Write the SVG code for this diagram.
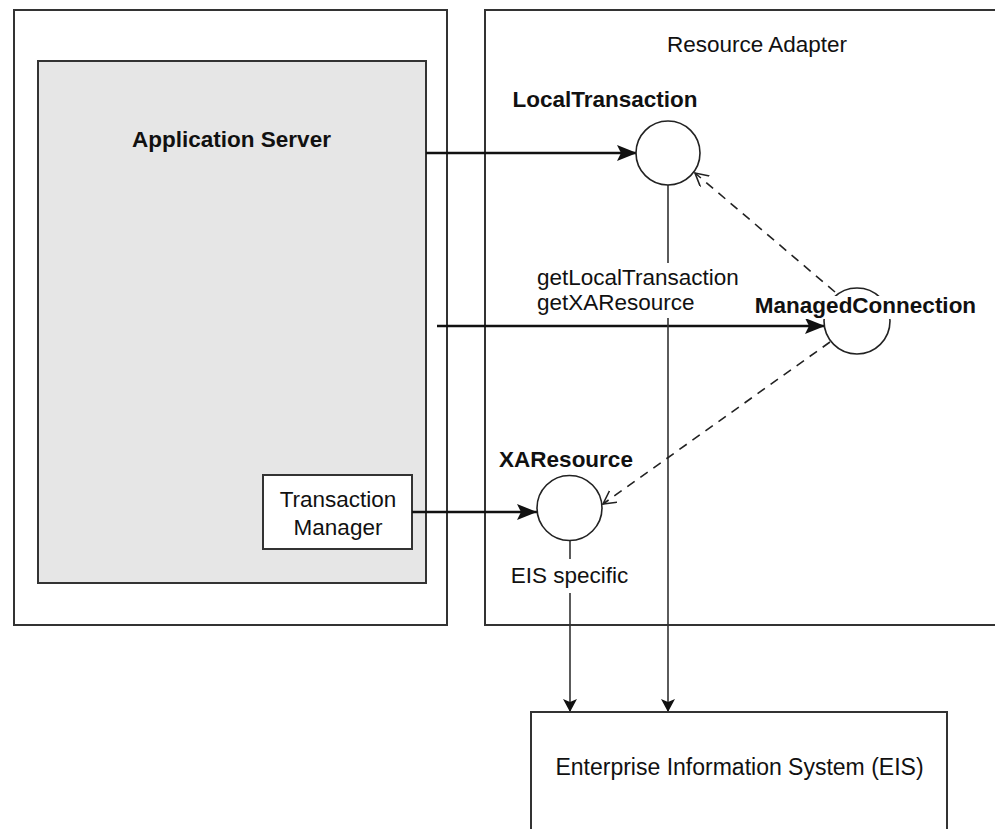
<svg xmlns="http://www.w3.org/2000/svg" width="995" height="829" viewBox="0 0 995 829">
<style>
.box{fill:#fff;stroke:#333;stroke-width:2}
.gray{fill:#e6e6e6;stroke:#333;stroke-width:2}
.circ{fill:#fff;stroke:#222;stroke-width:1.6}
.t{font-family:"Liberation Sans",Arial,sans-serif;font-size:22.5px;fill:#111}
.b{font-weight:bold}
.thick{stroke:#111;stroke-width:2.6;fill:none}
.thin{stroke:#333;stroke-width:1.6;fill:none}
.dash{stroke:#222;stroke-width:1.6;fill:none;stroke-dasharray:9 7}
</style>
<defs>
<marker id="big" markerWidth="22" markerHeight="18" refX="20" refY="8" orient="auto" markerUnits="userSpaceOnUse">
<path d="M0,0 L20,8 L0,16 L4,8 Z" fill="#111"/>
</marker>
<marker id="small" markerWidth="16" markerHeight="16" refX="13" refY="7" orient="auto" markerUnits="userSpaceOnUse">
<path d="M0,0 L13,7 L0,14 L3,7 Z" fill="#111"/>
</marker>
<marker id="open" markerWidth="16" markerHeight="16" refX="13" refY="7" orient="auto" markerUnits="userSpaceOnUse">
<path d="M0,0 L13,7 L0,14" fill="none" stroke="#222" stroke-width="1.6"/>
</marker>
</defs>
<rect width="995" height="829" fill="#fff"/>

<g id="outer-left">
<rect class="box" x="14" y="10" width="433" height="615"/>
</g>
<g id="resource-adapter">
<rect class="box" x="485" y="10" width="530" height="615"/>
<text class="t" x="757" y="52" text-anchor="middle">Resource Adapter</text>
</g>
<g id="application-server">
<rect class="gray" x="38" y="61" width="388" height="522"/>
<text class="t b" x="231.5" y="147" text-anchor="middle">Application Server</text>
</g>
<g id="transaction-manager">
<rect class="box" x="263" y="475" width="149" height="74"/>
<text class="t" x="338" y="507" text-anchor="middle">Transaction</text>
<text class="t" x="338" y="535" text-anchor="middle">Manager</text>
</g>

<g id="connectors">
<line class="thick" x1="426" y1="153" x2="637" y2="153" marker-end="url(#big)"/>
<line class="thick" x1="437" y1="326" x2="825" y2="326" marker-end="url(#big)"/>
<line class="thick" x1="412" y1="512" x2="537" y2="512" marker-end="url(#big)"/>
<line class="thin" x1="668" y1="185" x2="668" y2="263"/>
<line class="thin" x1="668" y1="318" x2="668" y2="712" marker-end="url(#small)"/>
<line class="thin" x1="570" y1="540" x2="570" y2="559"/>
<line class="thin" x1="570" y1="593" x2="570" y2="712" marker-end="url(#small)"/>
<line class="dash" x1="835" y1="292" x2="695" y2="173" marker-end="url(#open)"/>
<line class="dash" x1="830" y1="342" x2="603" y2="504" marker-end="url(#open)"/>
</g>

<g id="local-transaction">
<circle class="circ" cx="668" cy="153" r="32"/>
<text class="t b" x="605" y="107" text-anchor="middle">LocalTransaction</text>
</g>
<g id="call-labels">
<text class="t" x="537" y="285">getLocalTransaction</text>
<text class="t" x="537" y="310">getXAResource</text>
</g>
<g id="managed-connection">
<circle class="circ" cx="857" cy="321" r="33"/>
<rect x="753" y="296" width="226" height="23" fill="#fff"/>
<text class="t b" x="865.5" y="313" text-anchor="middle">ManagedConnection</text>
</g>
<g id="xaresource">
<circle class="circ" cx="569.5" cy="508" r="32.5"/>
<text class="t b" x="566" y="467" text-anchor="middle">XAResource</text>
<text class="t" x="569.5" y="583" text-anchor="middle">EIS specific</text>
</g>
<g id="eis">
<rect class="box" x="531" y="712" width="416" height="140"/>
<text class="t" x="739.5" y="775" text-anchor="middle" style="font-size:23px">Enterprise Information System (EIS)</text>
</g>
</svg>
